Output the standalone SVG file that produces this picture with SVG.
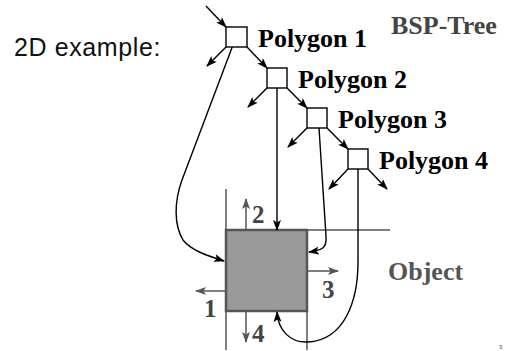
<svg xmlns="http://www.w3.org/2000/svg" width="507" height="351" viewBox="0 0 507 351">
  <defs>
    <marker id="head" markerWidth="11" markerHeight="8" refX="10" refY="4" orient="auto" markerUnits="userSpaceOnUse">
      <path d="M0,0 L11,4 L0,8 L2.5,4 z" fill="#000"/>
    </marker>
    <marker id="headGray" markerWidth="11" markerHeight="8" refX="10" refY="4" orient="auto" markerUnits="userSpaceOnUse">
      <path d="M0,0 L11,4 L0,8 L2.5,4 z" fill="#555"/>
    </marker>
  </defs>
  <style>
    .node { fill: #fff; stroke: #000; stroke-width: 1.4; }
    .edge { fill: none; stroke: #000; stroke-width: 1.4; marker-end: url(#head); }
    .split { fill: none; stroke: #555; stroke-width: 1.5; }
    .normal { fill: none; stroke: #555; stroke-width: 1.5; marker-end: url(#headGray); }
    .label { font-family: "Liberation Serif", "Times New Roman", serif; font-weight: bold; font-size: 26px; fill: #000; }
    .num { font-family: "Liberation Serif", "Times New Roman", serif; font-weight: bold; font-size: 25px; fill: #444; }
  </style>
  <rect width="507" height="351" fill="#fff"/>

  <text x="14" y="56" font-family="Liberation Sans, Arial, sans-serif" font-size="25" fill="#111" letter-spacing="0.6">2D example:</text>
  <text x="391" y="34" class="label" style="fill:#444">BSP-Tree</text>

  <!-- object with its split lines -->
  <g id="object">
    <line class="split" x1="226" y1="189" x2="226" y2="350"/>
    <line class="split" x1="307" y1="230" x2="307" y2="350"/>
    <line class="split" x1="226" y1="230" x2="390" y2="230"/>
    <rect x="226" y="230" width="81" height="81" fill="#9a9a9a" stroke="#555" stroke-width="2.5"/>
    <line class="normal" x1="246" y1="230" x2="246" y2="199"/>
    <line class="normal" x1="307" y1="271" x2="338" y2="271"/>
    <line class="normal" x1="226" y1="291" x2="196" y2="291"/>
    <line class="normal" x1="246" y1="311" x2="246" y2="342"/>
    <text class="num" x="252" y="223">2</text>
    <text class="num" x="322" y="298">3</text>
    <text class="num" x="204" y="317">1</text>
    <text class="num" x="252" y="342">4</text>
    <text x="388" y="280" font-family="Liberation Serif, Times New Roman, serif" font-weight="bold" font-size="26" fill="#555">Object</text>
  </g>

  <!-- connectors -->
  <g id="connectors">
    <line class="edge" x1="206" y1="6" x2="226" y2="27"/>
    <line class="edge" x1="226" y1="47" x2="207" y2="66"/>
    <line class="edge" x1="247" y1="47" x2="267" y2="68"/>
    <line class="edge" x1="267" y1="88" x2="248" y2="107"/>
    <line class="edge" x1="287" y1="88" x2="307" y2="108"/>
    <line class="edge" x1="307" y1="128" x2="288" y2="147"/>
    <line class="edge" x1="327" y1="128" x2="348" y2="149"/>
    <line class="edge" x1="348" y1="169" x2="329" y2="189"/>
    <line class="edge" x1="368" y1="169" x2="387" y2="189"/>
    <path class="edge" d="M236,37 L182,180 C174,202 174,225 183,240 C191,250 205,255 224,261"/>
    <path class="edge" d="M277,88 L277,230"/>
    <path class="edge" d="M319,128 L326,236 C327,248 323,250 309,252"/>
    <path class="edge" d="M358,169 L358,262 C358,300 345,340 308,342 C290,343 278,330 277,312"/>
  </g>

  <g id="polygon1">
    <rect class="node" x="226" y="27" width="21" height="20"/>
    <text class="label" x="258" y="47">Polygon 1</text>
  </g>
  <g id="polygon2">
    <rect class="node" x="267" y="68" width="20" height="20"/>
    <text class="label" x="298" y="88">Polygon 2</text>
  </g>
  <g id="polygon3">
    <rect class="node" x="307" y="108" width="20" height="20"/>
    <text class="label" x="338" y="128">Polygon 3</text>
  </g>
  <g id="polygon4">
    <rect class="node" x="348" y="149" width="20" height="20"/>
    <text class="label" x="379" y="169">Polygon 4</text>
  </g>

  <text x="499" y="349" font-family="Liberation Sans, Arial, sans-serif" font-size="6" fill="#444">3</text>
</svg>
